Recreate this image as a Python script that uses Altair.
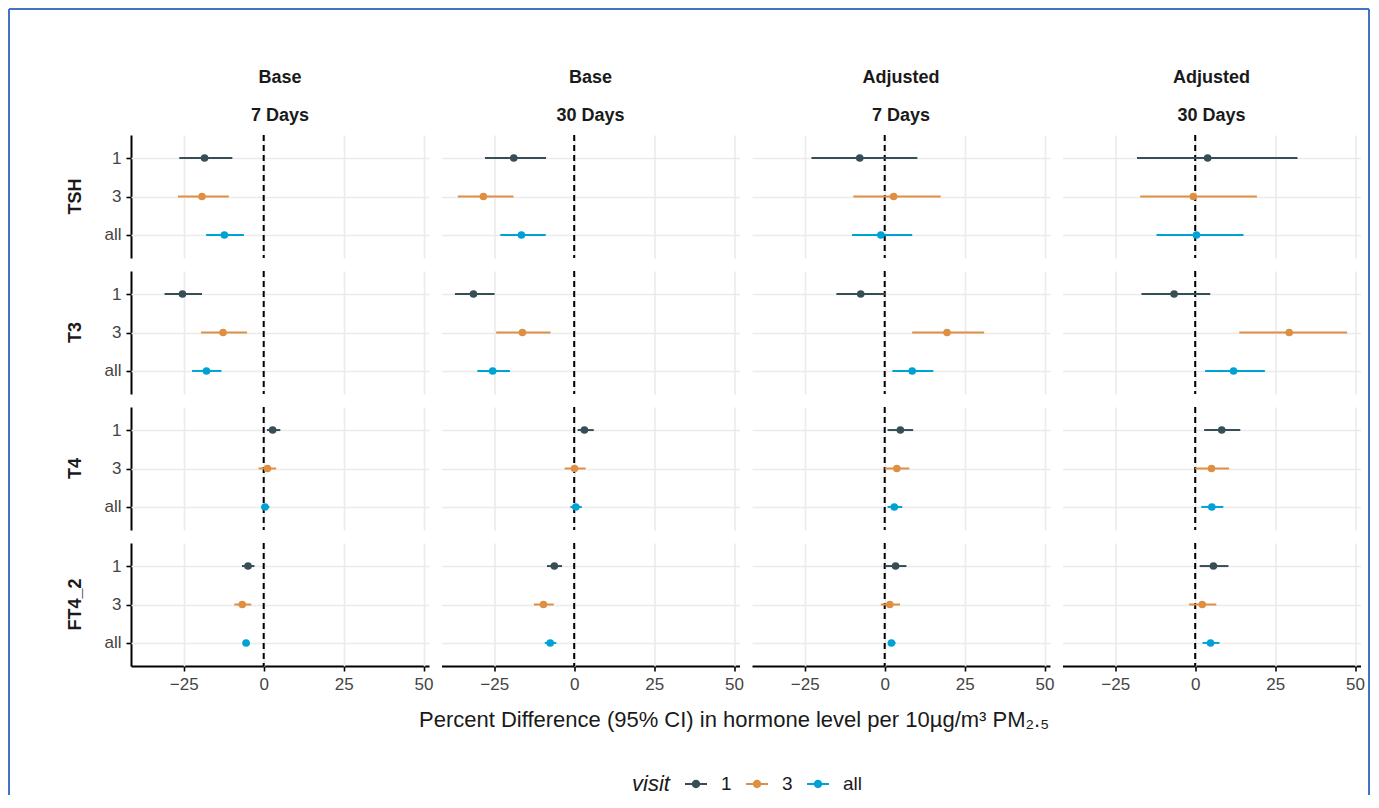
import altair as alt
import pandas as pd

hormones = ["TSH", "T3", "T4", "FT4_2"]
visits = ["1", "3", "all"]
panels = ["Base|7 Days", "Base|30 Days", "Adjusted|7 Days", "Adjusted|30 Days"]
colors = ["#374E55", "#DF8F44", "#00A1D5"]

# order inside each list: TSH(1,3,all), T3(1,3,all), T4(1,3,all), FT4_2(1,3,all)
est_base7 = [-18.5, -19.3, -12.3, -25.4, -12.7, -17.9, 2.8, 1.2, 0.4, -4.9, -6.7, -5.5]
lo_base7 = [-26.4, -26.8, -18.0, -31.0, -19.6, -22.4, 1.0, -1.6, -0.8, -6.8, -9.2, -6.6]
hi_base7 = [-9.8, -10.9, -6.2, -19.3, -5.2, -13.2, 5.2, 3.9, 1.8, -2.9, -3.9, -4.4]

est_base30 = [-18.9, -28.4, -16.5, -31.5, -16.2, -25.5, 3.2, 0.1, 0.5, -6.2, -9.6, -7.5]
lo_base30 = [-27.9, -36.4, -23.1, -37.3, -24.4, -30.3, 1.1, -3.0, -1.2, -8.5, -12.6, -9.2]
hi_base30 = [-8.8, -19.0, -8.9, -24.9, -7.4, -20.1, 6.1, 3.6, 2.4, -3.8, -6.4, -5.6]

est_adj7 = [-7.8, 2.8, -1.2, -7.5, 19.5, 8.6, 4.9, 3.8, 3.0, 3.4, 1.6, 2.1]
lo_adj7 = [-22.9, -9.8, -10.2, -15.1, 8.6, 2.4, 0.9, 0.0, 0.9, 0.0, -1.2, 1.0]
hi_adj7 = [10.2, 17.5, 8.6, 0.1, 31.1, 15.2, 8.9, 7.7, 5.5, 6.8, 4.8, 3.4]

est_adj30 = [3.9, -0.6, 0.4, -6.6, 29.4, 12.0, 8.3, 5.1, 5.2, 5.7, 2.2, 4.8]
lo_adj30 = [-18.2, -17.2, -12.1, -16.8, 13.8, 3.1, 2.8, 0.0, 1.9, 1.4, -1.9, 2.3]
hi_adj30 = [32.0, 19.3, 15.1, 4.7, 47.5, 21.8, 14.1, 10.6, 8.8, 10.4, 6.6, 7.6]

est_all = [est_base7, est_base30, est_adj7, est_adj30]
lo_all = [lo_base7, lo_base30, lo_adj7, lo_adj30]
hi_all = [hi_base7, hi_base30, hi_adj7, hi_adj30]

rows = []
for p, panel in enumerate(panels):
    k = 0
    for h in hormones:
        for v in visits:
            rows.append({"panel": panel, "hormone": h, "visit": v,
                         "est": est_all[p][k], "lo": lo_all[p][k], "hi": hi_all[p][k]})
            k += 1
df = pd.DataFrame(rows)

x_title = "Percent Difference (95% CI) in hormone level per 10µg/m³ PM₂.₅"
FONT = "Liberation Sans"
BLUE = "#4472C4"
TICK_TEXT = "#444444"

xscale = alt.Scale(domain=[-41.5, 51.7], nice=False, zero=False)
yscale = alt.Scale(type="point", domain=visits, padding=0.6)
xaxis = alt.Axis(values=[-25, 0, 25, 50], title=None, grid=True, gridColor="#EBEBEB",
                 gridWidth=1.6, domainColor="black", domainWidth=1.8, tickColor="black",
                 tickWidth=1.6, tickSize=5, labelFontSize=17, labelColor=TICK_TEXT,
                 labelPadding=5, labelFont=FONT)
yaxis = alt.Axis(title=None, grid=True, gridColor="#EBEBEB", gridWidth=1.6,
                 domainColor="black", domainWidth=2, tickColor="black", tickWidth=1.6,
                 tickSize=5, labelFontSize=17, labelColor=TICK_TEXT, labelPadding=5,
                 labelFont=FONT)

legend = alt.Legend(
    orient="none", legendX=501, legendY=638, direction="horizontal", title="visit",
    titleOrient="left", titleFontStyle="italic", titleFontWeight="normal",
    titleFontSize=22, titleColor="#1A1A1A", titlePadding=15, titleFont=FONT,
    labelFontSize=19, labelColor="#1A1A1A", labelOffset=14, labelFont=FONT,
    columnPadding=14,
    symbolType="M-1,-0.1H1V0.1H-1Z M0.38,0A0.38,0.38,0,1,1,-0.38,0A0.38,0.38,0,1,1,0.38,0Z",
    symbolSize=484, symbolStrokeWidth=0)
cscale = alt.Scale(domain=visits, range=colors)

base = alt.Chart(df).properties(width=298, height=123)

zero = base.transform_filter("datum.visit == '1'").mark_rule(
    color="black", strokeDash=[6, 4], strokeWidth=2).encode(x=alt.datum(0))

points = base.mark_point(filled=True, size=58, opacity=1).encode(
    y=alt.Y("visit:N", scale=yscale, axis=yaxis, sort=visits),
    x=alt.X("est:Q", scale=xscale, axis=xaxis),
    color=alt.Color("visit:N", scale=cscale, legend=legend),
)

rules = base.mark_rule(strokeWidth=2).encode(
    y=alt.Y("visit:N", scale=yscale, axis=yaxis, sort=visits),
    x=alt.X("lo:Q", scale=xscale, axis=xaxis),
    x2="hi:Q",
    color=alt.Color("visit:N", scale=cscale, legend=None),
)

# decorations drawn once from the top-left cell: the blue frame and the shared x title
first = base.transform_filter(
    "datum.visit == '1' && datum.hormone == 'TSH' && datum.panel == 'Base|7 Days'")
FL, FT, FR, FB = -122, -126, 1238, 660
f_left = first.mark_rule(color=BLUE, strokeWidth=2).encode(
    x=alt.value(FL), y=alt.value(FT), y2=alt.value(FB))
f_top = first.mark_rule(color=BLUE, strokeWidth=2).encode(
    x=alt.value(FL), x2=alt.value(FR), y=alt.value(FT))
f_right = first.mark_rule(color=BLUE, strokeWidth=2).encode(
    x=alt.value(FR), y=alt.value(FT), y2=alt.value(FB))
xtitle = first.mark_text(text=x_title, font=FONT, fontSize=22, color="#1A1A1A",
                         align="center", baseline="middle").encode(
    x=alt.value(603), y=alt.value(585))

chart = alt.layer(zero, points, rules, f_left, f_top, f_right, xtitle).facet(
    row=alt.Row("hormone:N", sort=hormones, title=None,
                header=alt.Header(labelFontSize=18, labelFontWeight="bold", labelColor="#1A1A1A",
                                  labelOrient="left", labelPadding=19, labelFont=FONT)),
    column=alt.Column("panel:N", sort=panels, title=None,
                      header=alt.Header(labelExpr="split(datum.value, '|')", labelFontSize=18,
                                        labelFontWeight="bold", labelColor="#1A1A1A",
                                        labelLineHeight=38, labelPadding=10, labelOrient="top",
                                        labelFont=FONT)),
    spacing={"row": 13, "column": 12.5},
    bounds="flush",
).properties(
    padding={"left": 0, "top": 0, "right": 0, "bottom": 0}
).configure(font=FONT).configure_view(stroke=None)

chart.save("out.html", embed_options={"renderer": "svg", "actions": False})
